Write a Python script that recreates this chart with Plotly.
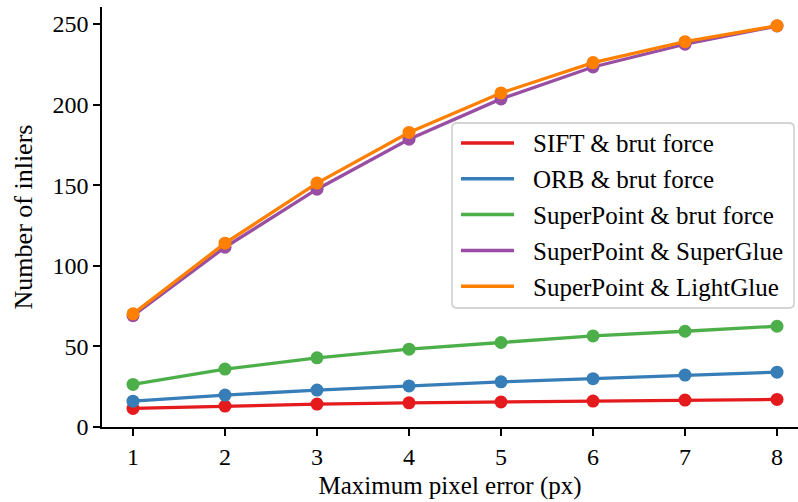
import plotly.graph_objects as go

# Maximum pixel error thresholds (px)
pixel_error = [1, 2, 3, 4, 5, 6, 7, 8]

# Number of inliers per matching pipeline
sift_bf = [11.5, 13.0, 14.2, 15.0, 15.5, 16.1, 16.7, 17.1]
orb_bf = [16.0, 19.8, 22.9, 25.5, 28.0, 30.0, 32.2, 34.0]
superpoint_bf = [26.4, 35.9, 42.9, 48.3, 52.4, 56.5, 59.4, 62.5]
superpoint_superglue = [69.0, 111.5, 147.5, 178.5, 203.5, 223.3, 237.4, 248.7]
superpoint_lightglue = [70.2, 114.0, 151.3, 182.7, 207.2, 226.0, 239.0, 248.9]

series_names = [
    "SIFT & brut force",
    "ORB & brut force",
    "SuperPoint & brut force",
    "SuperPoint & SuperGlue",
    "SuperPoint & LightGlue",
]
series_values = [sift_bf, orb_bf, superpoint_bf, superpoint_superglue, superpoint_lightglue]
series_colors = ["#e41a1c", "#377eb8", "#4daf4a", "#984ea3", "#ff7f00"]

y_ticks = [0, 50, 100, 150, 200, 250]

FONT = "Liberation Serif, Times New Roman, serif"
W, H = 798, 502
ML, MR, MT, MB = 102, 0, 7, 75
PW, PH = W - ML - MR, H - MT - MB


def px(x):
    """Horizontal pixel -> paper fraction."""
    return (x - ML) / PW


def py(y):
    """Vertical pixel (from top) -> paper fraction."""
    return (H - MB - y) / PH


fig = go.Figure()
for name, vals, color in zip(series_names, series_values, series_colors):
    fig.add_trace(go.Scatter(
        x=pixel_error, y=vals, name=name, mode="lines+markers",
        line=dict(color=color, width=3.3),
        marker=dict(color=color, size=13),
        cliponaxis=False, showlegend=False,
    ))

# Legend: rounded frame, line swatches and labels
x0, x1, y0, y1, r = 452, 794, 123, 308, 5
frame = (
    f"M {px(x0 + r)},{py(y0)} L {px(x1 - r)},{py(y0)} "
    f"Q {px(x1)},{py(y0)} {px(x1)},{py(y0 + r)} "
    f"L {px(x1)},{py(y1 - r)} Q {px(x1)},{py(y1)} {px(x1 - r)},{py(y1)} "
    f"L {px(x0 + r)},{py(y1)} Q {px(x0)},{py(y1)} {px(x0)},{py(y1 - r)} "
    f"L {px(x0)},{py(y0 + r)} Q {px(x0)},{py(y0)} {px(x0 + r)},{py(y0)} Z"
)
shapes = [dict(type="path", path=frame, xref="paper", yref="paper",
               fillcolor="rgba(255,255,255,0.85)",
               line=dict(color="#d4d4d4", width=1.8), layer="above")]
annotations = []
row_y0, row_gap = 143, 35.8
for i, (name, color) in enumerate(zip(series_names, series_colors)):
    yc = row_y0 + i * row_gap
    shapes.append(dict(type="line", xref="paper", yref="paper",
                       x0=px(461), x1=px(514), y0=py(yc), y1=py(yc),
                       line=dict(color=color, width=3.5), layer="above"))
    annotations.append(dict(text=name, xref="paper", yref="paper",
                            x=px(531), y=py(yc + 1), xanchor="left", yanchor="middle",
                            showarrow=False,
                            font=dict(family=FONT, size=25, color="black")))

fig.update_layout(
    width=W, height=H,
    margin=dict(l=ML, r=MR, t=MT, b=MB),
    paper_bgcolor="white", plot_bgcolor="white",
    font=dict(family=FONT, size=24, color="black"),
    showlegend=False,
    shapes=shapes,
    annotations=annotations,
)

fig.update_xaxes(
    range=[0.663, 8.228], tickvals=pixel_error,
    showline=True, linecolor="black", linewidth=1.5, mirror=False,
    ticks="outside", ticklen=7, tickwidth=1.5, tickcolor="black",
    showgrid=False, zeroline=False,
    tickfont=dict(family=FONT, size=24, color="black"),
    title=dict(text="Maximum pixel error (px)", standoff=8,
               font=dict(family=FONT, size=25, color="black")),
)
fig.update_yaxes(
    range=[0, 260.5], tickvals=y_ticks,
    showline=True, linecolor="black", linewidth=1.5, mirror=False,
    ticks="outside", ticklen=7, tickwidth=1.5, tickcolor="black",
    showgrid=False, zeroline=False,
    tickfont=dict(family=FONT, size=24, color="black"),
    title=dict(text="Number of inliers", standoff=12,
               font=dict(family=FONT, size=26, color="black")),
)

fig.write_html("out.html")
